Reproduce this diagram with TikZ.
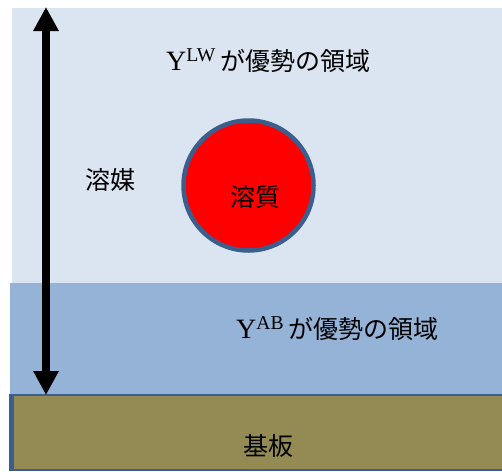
\documentclass[tikz,border=0pt]{standalone}
\usepackage{fontspec}
\setmainfont{Liberation Serif}
\newfontfamily\jp{Noto Sans CJK JP}
\usetikzlibrary{arrows.meta}
\definecolor{lightreg}{HTML}{DBE5F1}
\definecolor{darkreg}{HTML}{95B3D7}
\definecolor{subst}{HTML}{948A54}
\definecolor{edge}{HTML}{3B5E8C}
\tikzset{
  lbl/.style={inner sep=0pt, font=\fontsize{28}{32}\selectfont},
  jlbl/.style={inner sep=0pt, font=\fontsize{25}{30}\selectfont\jp},
}
\newcommand\jptext[1]{{\jp\fontsize{25}{30}\selectfont #1}}
\begin{document}
\begin{tikzpicture}[x=1pt,y=-1pt]
\useasboundingbox (0,0) rectangle (502,471);
\clip (0,0) rectangle (502,471);
\fill[white] (0,0) rectangle (502,471);
% regions
\fill[lightreg] (12,8) rectangle (503,284);
\fill[darkreg] (10,283) rectangle (503,396);
\fill[subst] (11,395) rectangle (503,470);
\draw[edge, line width=2] (11,395) -- (503,395);
\draw[edge, line width=1.5] (11,470) -- (503,470);
\draw[edge, line width=4.5] (11.5,394) -- (11.5,471);
% solute
\node[circle, fill=red, draw=edge, line width=4.5, minimum size=130, inner sep=0] (solute) at (248.5,185.5) {};
\node[jlbl] (soluteT) at (255,197) {溶質};
% labels
\node[lbl, anchor=west] (lw) at (166,61) {Y\textsuperscript{LW}\,\jptext{が優勢の領域}};
\node[lbl, anchor=west] (ab) at (236,329) {Y\textsuperscript{AB}\,\jptext{が優勢の領域}};
\node[jlbl] (solvent) at (110,180) {溶媒};
\node[jlbl] (substrate) at (268,446) {基板};
% arrow
\coordinate (top) at (46,7);
\coordinate (bot) at (46,395);
\draw[line width=8, {Triangle[width=24,length=24]}-{Triangle[width=24,length=24]}] (top) -- (bot);
\end{tikzpicture}
\end{document}
